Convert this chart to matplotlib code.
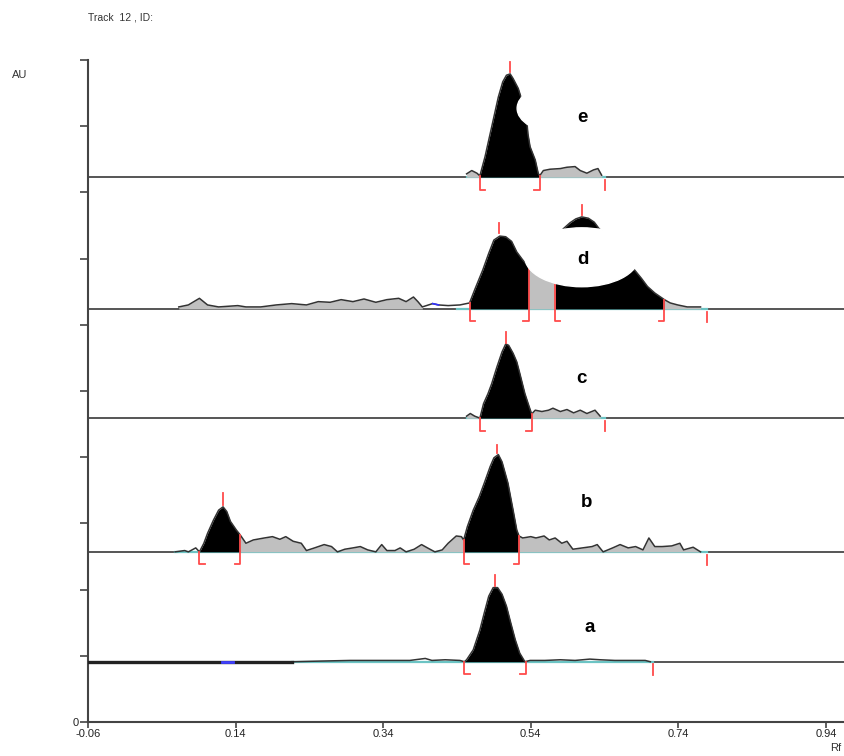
import matplotlib
matplotlib.use("Agg")
import matplotlib.pyplot as plt
from matplotlib.patches import Ellipse
import numpy as np

# ---- data (Rf, height above own track baseline in AU) ----
base_a, base_b, base_c, base_d, base_e = 0.91, 2.57, 4.59, 6.24, 8.23

a_rf = [0.216, 0.254, 0.295, 0.336, 0.376, 0.397, 0.406, 0.424, 0.444, 0.450, 0.453, 0.462, 0.471,
        0.477, 0.483, 0.489, 0.495, 0.501, 0.507, 0.513, 0.519, 0.525, 0.532, 0.539, 0.559, 0.580,
        0.600, 0.620, 0.634, 0.654, 0.674, 0.695, 0.702]
a_h = [0.0, 0.01, 0.02, 0.02, 0.02, 0.05, 0.02, 0.03, 0.02, 0.0, 0.03, 0.18, 0.48,
       0.74, 0.99, 1.12, 1.12, 1.02, 0.84, 0.58, 0.33, 0.13, 0.0, 0.02, 0.02, 0.03,
       0.02, 0.04, 0.03, 0.02, 0.02, 0.02, 0.0]

b_rf = [0.058, 0.071, 0.076, 0.086, 0.091, 0.097, 0.102, 0.110, 0.117, 0.123, 0.128, 0.133, 0.141,
        0.146, 0.154, 0.164, 0.179, 0.190, 0.200, 0.208, 0.218, 0.229, 0.236, 0.247, 0.260, 0.270,
        0.278, 0.288, 0.299, 0.309, 0.319, 0.330, 0.338, 0.345, 0.356, 0.363, 0.371, 0.382, 0.392,
        0.400, 0.410, 0.420, 0.428, 0.439, 0.446, 0.449, 0.454, 0.462, 0.470, 0.477, 0.485, 0.490,
        0.496, 0.501, 0.509, 0.516, 0.521, 0.524, 0.529, 0.540, 0.547, 0.558, 0.565, 0.573, 0.582,
        0.589, 0.597, 0.610, 0.623, 0.630, 0.638, 0.651, 0.661, 0.672, 0.682, 0.692, 0.700, 0.708,
        0.718, 0.731, 0.742, 0.747, 0.760, 0.770]
b_h = [0.0, 0.02, 0.0, 0.06, 0.0, 0.13, 0.28, 0.48, 0.63, 0.68, 0.61, 0.46, 0.33,
       0.26, 0.13, 0.18, 0.21, 0.23, 0.19, 0.23, 0.16, 0.13, 0.02, 0.06, 0.11, 0.08,
       0.0, 0.04, 0.06, 0.08, 0.03, 0.0, 0.11, 0.02, 0.02, 0.06, 0.0, 0.04, 0.11,
       0.06, 0.0, 0.03, 0.13, 0.24, 0.23, 0.18, 0.38, 0.63, 0.83, 1.04, 1.29, 1.42,
       1.47, 1.36, 1.04, 0.63, 0.33, 0.24, 0.21, 0.23, 0.21, 0.24, 0.18, 0.21, 0.13,
       0.16, 0.04, 0.06, 0.08, 0.11, 0.0, 0.06, 0.11, 0.06, 0.08, 0.03, 0.21, 0.08,
       0.08, 0.09, 0.13, 0.03, 0.07, 0.0]

c_rf = [0.453, 0.458, 0.464, 0.471, 0.476, 0.482, 0.487, 0.494, 0.501, 0.506, 0.510, 0.516, 0.521,
        0.525, 0.532, 0.537, 0.540, 0.541, 0.546, 0.555, 0.564, 0.570, 0.580, 0.589, 0.598, 0.607,
        0.616, 0.627, 0.634]
c_h = [0.03, 0.07, 0.03, 0.0, 0.22, 0.37, 0.52, 0.77, 1.00, 1.12, 1.10, 0.98, 0.85,
       0.68, 0.37, 0.20, 0.10, 0.06, 0.12, 0.10, 0.12, 0.15, 0.10, 0.13, 0.08, 0.12,
       0.07, 0.12, 0.03]

d_rf = [0.063, 0.076, 0.091, 0.102, 0.117, 0.143, 0.154, 0.174, 0.195, 0.216, 0.236, 0.252, 0.268,
        0.283, 0.299, 0.314, 0.330, 0.345, 0.361, 0.371, 0.381, 0.387, 0.393, 0.407, 0.415, 0.428,
        0.444, 0.457, 0.464, 0.475, 0.483, 0.490, 0.498, 0.506, 0.514, 0.521, 0.529, 0.537, 0.544,
        0.558, 0.567, 0.577, 0.584, 0.593, 0.601, 0.609, 0.618, 0.626, 0.632, 0.647, 0.664, 0.679,
        0.690, 0.698, 0.708, 0.721, 0.729, 0.739, 0.752, 0.770]
d_h = [0.03, 0.06, 0.16, 0.06, 0.03, 0.05, 0.03, 0.03, 0.06, 0.08, 0.06, 0.11, 0.10,
       0.14, 0.11, 0.15, 0.10, 0.14, 0.16, 0.11, 0.18, 0.11, 0.03, 0.08, 0.06, 0.05,
       0.06, 0.09, 0.29, 0.59, 0.84, 1.04, 1.10, 1.09, 1.02, 0.86, 0.74, 0.64, 0.65,
       0.68, 0.82, 1.04, 1.21, 1.30, 1.36, 1.39, 1.37, 1.31, 1.22, 1.04, 0.85, 0.61,
       0.46, 0.34, 0.24, 0.14, 0.09, 0.06, 0.03, 0.03]

e_rf = [0.453, 0.460, 0.467, 0.471, 0.478, 0.487, 0.496, 0.502, 0.507, 0.512, 0.516, 0.523, 0.528,
        0.532, 0.535, 0.536, 0.539, 0.546, 0.550, 0.552, 0.557, 0.566, 0.580, 0.589, 0.600, 0.607,
        0.616, 0.625, 0.631, 0.636]
e_h = [0.05, 0.10, 0.06, 0.02, 0.31, 0.76, 1.21, 1.44, 1.54, 1.56, 1.49, 1.34, 1.16,
       0.98, 0.80, 0.66, 0.46, 0.26, 0.06, 0.02, 0.10, 0.12, 0.13, 0.15, 0.16, 0.10,
       0.06, 0.11, 0.13, 0.03]

# integration brackets (start, end) and end marks, peak max marks (rf, from, to)
a_br = [(0.450, 0.533)]
b_br = [(0.091, 0.146), (0.449, 0.524)]
c_br = [(0.471, 0.541)]
d_br = [(0.457, 0.537), (0.573, 0.721)]
e_br = [(0.471, 0.552)]
a_end, b_end, c_end, d_end, e_end = 0.705, 0.779, 0.641, 0.779, 0.641
a_pk = [(0.492, 1.14, 1.31)]
b_pk = [(0.123, 0.71, 0.89), (0.494, 1.50, 1.62)]
c_pk = [(0.506, 1.13, 1.30)]
d_pk = [(0.497, 1.15, 1.30), (0.609, 1.42, 1.57)]
e_pk = [(0.512, 1.59, 1.74)]
# grey (not integrated) zones
b_grey = [(0.146, 0.449), (0.524, 0.770)]
c_grey = [(0.453, 0.471), (0.541, 0.634)]
d_grey = [(0.063, 0.393), (0.537, 0.573), (0.721, 0.770)]
e_grey = [(0.453, 0.471), (0.552, 0.636)]

RED = '#ff4b4b'
TEAL = '#6cc4c4'


def seg(x, h, x0, x1):
    m = (x > x0) & (x < x1)
    xs = np.r_[x0, x[m], x1]
    hs = np.r_[np.interp(x0, x, h), h[m], np.interp(x1, x, h)]
    return xs, hs


def track(ax, rf, h, base, brackets, end, peaks, grey, teal_from=None):
    x = np.array(rf)
    y = np.array(h)
    ax.plot([-0.06, 1.0], [base, base], color='#555555', lw=1.4, zorder=1)
    t0 = x[0] if teal_from is None else teal_from
    ax.plot([t0, end], [base, base], color=TEAL, lw=1.6, zorder=2)
    for g0, g1 in grey:
        xs, hs = seg(x, y, g0, g1)
        ax.fill_between(xs, base, base + hs, color='#c0c0c0', lw=0, zorder=2)
    for b0, b1 in brackets:
        xs, hs = seg(x, y, b0, b1)
        ax.fill_between(xs, base, base + hs, color='black', lw=0, zorder=3)
    ax.plot(x, base + y, color='#333333', lw=1.1, zorder=4)
    for b0, b1 in brackets:
        for xb, d in ((b0, 0.007), (b1, -0.007)):
            top = base + np.interp(xb, x, y)
            ax.plot([xb + d, xb, xb], [base - 0.19, base - 0.19, top], color=RED, lw=1.3, zorder=5)
    ax.plot([end, end], [base - 0.04, base - 0.2], color=RED, lw=1.3, zorder=5)
    for px, p0, p1 in peaks:
        ax.plot([px, px], [base + p0, base + p1], color=RED, lw=1.3, zorder=5)


fig = plt.figure(figsize=(8.45, 7.56), dpi=100)
ax = fig.add_axes([88 / 845, 34 / 756, 757 / 845, 662 / 756])

track(ax, a_rf, a_h, base_a, a_br, a_end, a_pk, [])
ax.plot([-0.06, 0.216], [base_a, base_a], color='#222222', lw=2.4, zorder=4)
ax.plot([0.122, 0.137], [base_a, base_a], color='#4040ff', lw=2.0, zorder=4)
track(ax, b_rf, b_h, base_b, b_br, b_end, b_pk, b_grey)
track(ax, c_rf, c_h, base_c, c_br, c_end, c_pk, c_grey)
track(ax, d_rf, d_h, base_d, d_br, d_end, d_pk, d_grey, teal_from=0.44)
ax.plot([0.407, 0.415], [base_d + 0.08, base_d + 0.06], color='#3030ff', lw=1.2, zorder=4)
track(ax, e_rf, e_h, base_e, e_br, e_end, e_pk, e_grey)

# white label blobs covering parts of the traces
ax.add_patch(Ellipse((0.609, base_d + 0.78), 0.154, 0.89, color='white', zorder=6))
ax.add_patch(Ellipse((0.577, base_e + 1.04), 0.111, 0.73, color='white', zorder=6))

for lab, lx, ly in [('e', 0.610, 9.13), ('d', 0.611, 6.99), ('c', 0.608, 5.19),
                    ('b', 0.616, 3.31), ('a', 0.620, 1.42)]:
    ax.text(lx, ly, lab, fontsize=13.5, fontweight='bold', family='Liberation Sans',
            ha='center', va='center', zorder=7)

ax.set_xlim(-0.06, -0.06 + 757 / 738)
ax.set_ylim(0, 10)
for s in ['top', 'right']:
    ax.spines[s].set_visible(False)
for s in ['left', 'bottom']:
    ax.spines[s].set_color('#444444')
    ax.spines[s].set_linewidth(1.5)
ax.set_xticks([-0.06, 0.14, 0.34, 0.54, 0.74, 0.94])
ax.set_xticklabels(['-0.06', '0.14', '0.34', '0.54', '0.74', '0.94'],
                   fontsize=8, family='Liberation Sans', color='#222222')
ax.set_yticks(range(11))
ax.set_yticklabels(['0'] + [''] * 10, fontsize=8, family='Liberation Sans', color='#222222')
ax.tick_params(axis='both', direction='out', length=6, width=1.2, color='#444444', pad=1)
ax.tick_params(axis='x', length=4)

fig.text(88 / 845, 1 - 17 / 756, 'Track  12 , ID:', fontsize=7.5, family='Liberation Sans',
         color='#333333', va='center')
fig.text(12 / 845, 1 - 75 / 756, 'AU', fontsize=8, family='Liberation Sans',
         color='#333333', va='center')
fig.text(830 / 845, 1 - 748 / 756, 'Rf', fontsize=8, family='Liberation Sans',
         color='#333333', va='center')

fig.savefig('out.png', dpi=100)
